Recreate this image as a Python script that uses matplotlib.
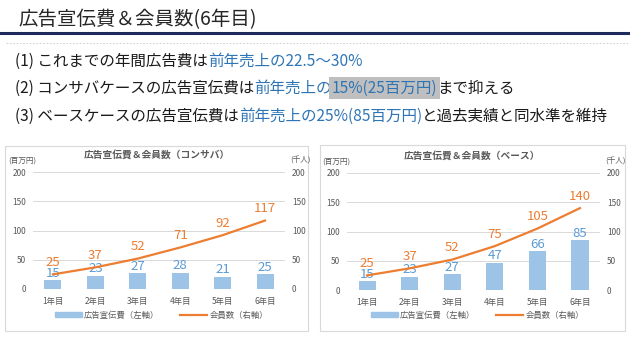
import matplotlib
matplotlib.use('Agg')
import matplotlib.pyplot as plt
from matplotlib.patches import Rectangle, Patch
from matplotlib.lines import Line2D

plt.rcParams['font.family'] = ['Noto Sans CJK JP', 'DejaVu Sans']

W, H = 630, 338

# データ
years = ['1年目', '2年目', '3年目', '4年目', '5年目', '6年目']
ad_consa = [15, 23, 27, 28, 21, 25]
members_consa = [25, 37, 52, 71, 92, 117]
ad_base = [15, 23, 27, 47, 66, 85]
members_base = [25, 37, 52, 75, 105, 140]

title = '広告宣伝費＆会員数(6年目)'
lines = [
    [('(1) これまでの年間広告費は', 'k', None), ('前年売上の22.5～30%', 'blue', None)],
    [('(2) コンサバケースの広告宣伝費は', 'k', None), ('前年売上の', 'blue', None),
     ('15%(25百万円)', 'blue', 'hl'), ('まで抑える', 'k', None)],
    [('(3) ベースケースの広告宣伝費は', 'k', None), ('前年売上の25%(85百万円)', 'blue', None),
     ('と過去実績と同水準を維持', 'k', None)],
]

BAR_C = '#9DC3E6'
LINE_C = '#ED7D31'
LBL_BLUE = '#5B9BD5'
TXT_BLUE = '#2E75B6'
GRAY = '#595959'

fig = plt.figure(figsize=(W / 100, H / 100), dpi=100)
fig.patch.set_facecolor('white')


def fx(px):
    return px / W


def fy(py):
    return 1 - py / H


# タイトルと区切り線
fig.text(fx(18), fy(20), title, fontsize=14, color='#262626', va='center', ha='left')
fig.add_artist(Line2D([0, 1], [fy(33), fy(33)], color='#1F2A5C', lw=2.2))
fig.add_artist(Line2D([fx(6), 1], [fy(43), fy(43)], color='#C8C8C8', lw=0.6, ls=(0, (2, 2))))

# 箇条書き (文字列を連結して配置)
renderer = fig.canvas.get_renderer()
line_y = [61, 88, 116]
for segs, py in zip(lines, line_y):
    x = fx(15)
    for txt, col, hl in segs:
        kw = {}
        if hl:
            kw['bbox'] = dict(boxstyle='square,pad=0.15', fc='#BFBFBF', ec='none')
        t = fig.text(x, fy(py), txt, fontsize=11.2, va='center', ha='left',
                     color=TXT_BLUE if col == 'blue' else '#1A1A1A', **kw)
        bb = t.get_window_extent(renderer=renderer)
        x = bb.x1 / fig.dpi / fig.get_figwidth()

# パネル枠
for (x0, y0, x1, y1) in [(5, 146, 308, 331), (320, 145, 625, 331)]:
    fig.add_artist(Rectangle((fx(x0), fy(y1)), fx(x1 - x0), (y1 - y0) / H,
                             fill=False, ec='#D9D9D9', lw=0.8))


def draw_chart(ax_px, ad, members, subtitle, panel):
    x0, x1, ytop, ybot = ax_px
    ax = fig.add_axes([fx(x0), fy(ybot), fx(x1 - x0), (ybot - ytop) / H])
    ax2 = ax.twinx()
    xs = list(range(len(years)))
    ax.bar(xs, ad, width=0.4, color=BAR_C, zorder=2)
    ax2.plot(xs, members, color=LINE_C, lw=1.6, zorder=3)
    for a in (ax, ax2):
        a.set_ylim(0, 200)
        a.set_yticks([0, 50, 100, 150, 200])
        for s in a.spines.values():
            s.set_visible(False)
        a.tick_params(length=0, labelsize=6, colors=GRAY, pad=5)
    ax.set_xlim(-0.47, 5.47)
    ax.set_xticks(xs)
    ax.set_xticklabels(years)
    ax.tick_params(axis='x', pad=6)
    ax.grid(axis='y', color='#D9D9D9', lw=0.7, zorder=0)
    ax.set_axisbelow(True)
    for xi, v in zip(xs, ad):
        ax.annotate(str(v), (xi, v), xytext=(0, 0.5), textcoords='offset points',
                    ha='center', va='bottom', fontsize=9.5, color=LBL_BLUE, zorder=5)
    for xi, v in zip(xs, members):
        ax2.annotate(str(v), (xi, v), xytext=(0, 4), textcoords='offset points',
                     ha='center', va='bottom', fontsize=9.5, color=LINE_C, zorder=5)
    px0, px1 = panel
    cx = (px0 + px1) / 2
    fig.text(fx(cx), fy(ytop - 17), subtitle, fontsize=7, color=GRAY, ha='center',
             va='center', fontweight='bold')
    fig.text(fx(x0 - 25), fy(ytop - 11), '(百万円)', fontsize=5.5, color=GRAY, ha='left', va='center')
    fig.text(fx(x1 + 5), fy(ytop - 11), '(千人)', fontsize=5.5, color=GRAY, ha='left', va='center')
    handles = [Patch(color=BAR_C), Line2D([], [], color=LINE_C, lw=1.6)]
    fig.legend(handles, ['広告宣伝費（左軸）', '会員数（右軸）'], loc='center',
               bbox_to_anchor=(fx(cx + 5), fy(315)), ncol=2, frameon=False, fontsize=6,
               labelcolor=GRAY, handlelength=3.2, handleheight=0.6, columnspacing=2.5,
               handletextpad=0.3)
    return ax


draw_chart((33, 285, 172, 289), ad_consa, members_consa,
           '広告宣伝費＆会員数（コンサバ）', (5, 308))
draw_chart((347, 600, 173, 290), ad_base, members_base,
           '広告宣伝費＆会員数（ベース）', (320, 625))

fig.savefig('out.png', dpi=100, facecolor='white')
